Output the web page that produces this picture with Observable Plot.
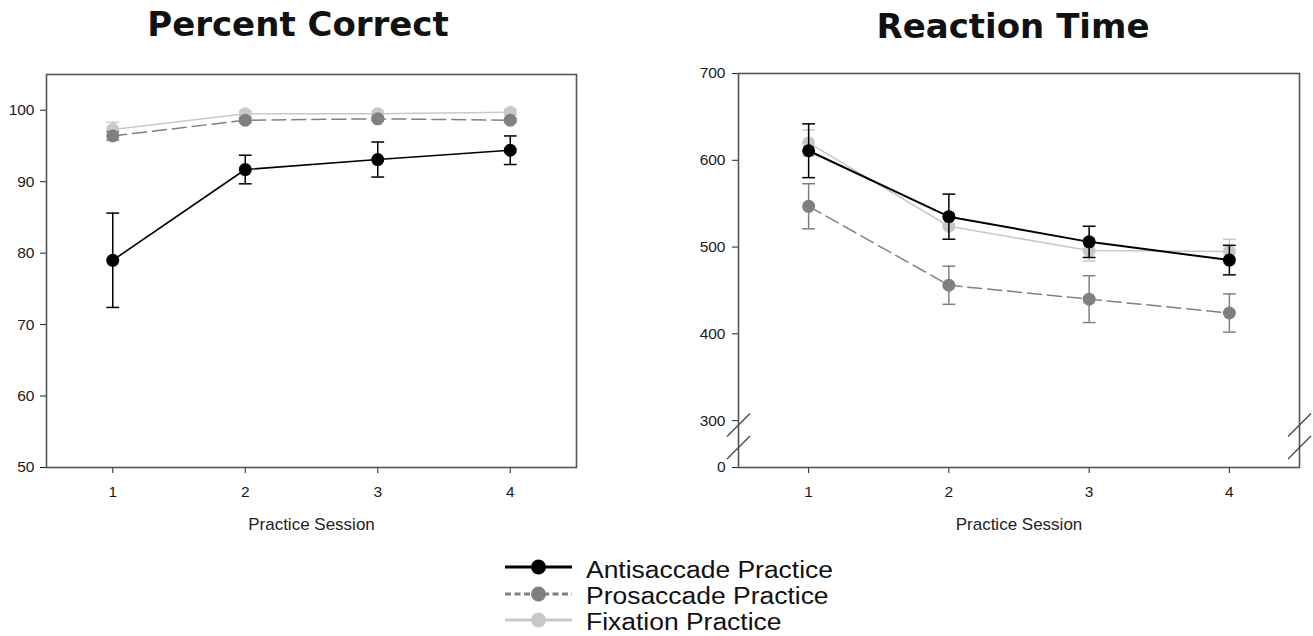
<!DOCTYPE html>
<html>
<head>
<meta charset="utf-8">
<script src="https://cdn.jsdelivr.net/npm/d3@7"></script>
<script src="https://cdn.jsdelivr.net/npm/@observablehq/plot@0.6"></script>
<style>
  html, body { margin: 0; padding: 0; background: #fff; }
  #root { position: relative; width: 1313px; height: 636px; overflow: hidden; font-family: "Liberation Sans", Arial, sans-serif; }
  .title { position: absolute; font-family: "DejaVu Sans", Verdana, sans-serif; font-weight: bold; font-size: 34px; line-height: 34px; color: #111; white-space: nowrap; transform: translateX(-50%); }
  .plotbox { position: absolute; top: 60px; }
  .plotbox svg g[aria-label*="axis"] text { font-size: 15.5px !important; fill: #1a1a1a; }
  .leg-text { position: absolute; left: 586px; font-size: 23px; line-height: 26px; color: #111; white-space: nowrap; transform: scaleX(1.15); transform-origin: 0 50%; }
  .leg-sw { position: absolute; left: 500px; width: 76px; height: 26px; }
</style>
</head>
<body>
<div id="root">
  <div class="title" style="left:298px; top:7px;">Percent Correct</div>
  <div class="title" style="left:1013px; top:9px;">Reaction Time</div>
  <div class="plotbox" id="left" style="left:0px;"></div>
  <div class="plotbox" id="right" style="left:660px;"></div>
  <div id="legend"></div>
</div>
<script>
// ---- data ----
const sessions = [1, 2, 3, 4];
const seriesNames = ["Antisaccade Practice", "Prosaccade Practice", "Fixation Practice"];

// Percent Correct
const pcAnti = [79.0, 91.7, 93.1, 94.4];
const pcAntiErr = [6.6, 2.0, 2.45, 2.0];
const pcPro = [96.4, 98.6, 98.8, 98.6];
const pcProErr = [0.6, 0.3, 0.3, 0.3];
const pcFix = [97.3, 99.5, 99.5, 99.7];
const pcFixErr = [1.0, 0.4, 0.4, 0.4];

// Reaction Time (ms)
const rtAnti = [611, 535, 506, 485];
const rtAntiErr = [31, 26, 18, 17];
const rtPro = [547, 456, 440, 424];
const rtProErr = [26, 22, 27, 22];
const rtFix = [620, 524, 496, 495];
const rtFixErr = [15, 15, 12, 14];

// axis ticks
const pcTicks = [50, 60, 70, 80, 90, 100];
const rtTicks = [300, 400, 500, 600, 700];
const rtBreakBottom = 246;   // position on the broken axis where "0" sits
const rtBreakMarks = [295, 269];

// ---- styles ----
const styles = {
  "Antisaccade Practice": {color: "#000", dash: null, width: 1.6},
  "Prosaccade Practice": {color: "#808080", dash: "14,6", width: 1.5},
  "Fixation Practice": {color: "#c8c8c8", dash: null, width: 1.5}
};

function rows(vals, errs) {
  return sessions.map((s, i) => ({session: s, v: vals[i], e: errs[i]}));
}

const capSymbol = {
  draw(ctx, size) {
    const r = Math.sqrt(size / Math.PI);
    ctx.moveTo(-r, 0); ctx.lineTo(r, 0);
  }
};
const slashSymbol = {
  draw(ctx, size) {
    const r = Math.sqrt(size / Math.PI);
    ctx.moveTo(-r, r); ctx.lineTo(r, -r);
  }
};

function seriesMarks(name, data, lineWidth) {
  const st = styles[name];
  return [
    Plot.ruleX(data, {x: "session", y1: d => d.v - d.e, y2: d => d.v + d.e, stroke: st.color, strokeWidth: 1.5}),
    Plot.dot(data, {x: "session", y: d => d.v + d.e, symbol: capSymbol, r: 6.4, stroke: st.color, strokeWidth: 1.5, fill: "none"}),
    Plot.dot(data, {x: "session", y: d => d.v - d.e, symbol: capSymbol, r: 6.4, stroke: st.color, strokeWidth: 1.5, fill: "none"}),
    Plot.line(data, {x: "session", y: "v", stroke: st.color, strokeWidth: lineWidth || st.width, strokeDasharray: st.dash}),
    Plot.dot(data, {x: "session", y: "v", r: 6.5, fill: st.color, stroke: "none"})
  ];
}

const common = {
  height: 477,
  marginBottom: 70,
  style: {fontFamily: "'Liberation Sans', Arial, sans-serif", fontSize: "15px", color: "#222", background: "transparent", overflow: "visible"}
};

// ---- left: Percent Correct ----
const leftPlot = Plot.plot({
  ...common,
  width: 620,
  marginTop: 14,
  marginLeft: 46,
  marginRight: 44,
  x: {domain: [0.5, 4.5], ticks: sessions, tickFormat: d => String(d), tickSize: 6, tickPadding: 12, label: null},
  y: {domain: [50, 105], ticks: pcTicks, tickSize: 6, tickPadding: 6, label: null},
  marks: [
    ...seriesMarks("Fixation Practice", rows(pcFix, pcFixErr)),
    ...seriesMarks("Prosaccade Practice", rows(pcPro, pcProErr)),
    ...seriesMarks("Antisaccade Practice", rows(pcAnti, pcAntiErr)),
    Plot.frame({stroke: "#555", strokeWidth: 1.6}),
    Plot.text(["Practice Session"], {frameAnchor: "bottom", dy: 62, lineAnchor: "bottom", fontSize: 17, fill: "#222"})
  ]
});
document.getElementById("left").appendChild(leftPlot);

// ---- right: Reaction Time ----
const slashData = [];
for (const xv of [0.5, 4.5]) for (const yv of rtBreakMarks) slashData.push({x: xv, y: yv});

const rightPlot = Plot.plot({
  ...common,
  width: 653,
  marginTop: 13,
  marginLeft: 78,
  marginRight: 14,
  x: {domain: [0.5, 4.5], ticks: sessions, tickFormat: d => String(d), tickSize: 6, tickPadding: 12, label: null},
  y: {domain: [rtBreakBottom, 700], ticks: [rtBreakBottom, ...rtTicks], tickFormat: d => d === rtBreakBottom ? "0" : String(d), tickSize: 6, tickPadding: 7, label: null},
  marks: [
    ...seriesMarks("Fixation Practice", rows(rtFix, rtFixErr)),
    ...seriesMarks("Prosaccade Practice", rows(rtPro, rtProErr)),
    ...seriesMarks("Antisaccade Practice", rows(rtAnti, rtAntiErr), 2),
    Plot.frame({stroke: "#555", strokeWidth: 1.6}),
    Plot.dot(slashData, {x: "x", y: "y", symbol: slashSymbol, r: 11.5, stroke: "#444", strokeWidth: 1.3, fill: "none"}),
    Plot.text(["Practice Session"], {frameAnchor: "bottom", dy: 62, lineAnchor: "bottom", fontSize: 17, fill: "#222"})
  ]
});
document.getElementById("right").appendChild(rightPlot);

// ---- legend ----
const legend = document.getElementById("legend");
const swCenters = [567, 593.5, 620];
const textTops = [557, 583, 609];
seriesNames.forEach((name, i) => {
  const st = styles[name];
  const ns = "http://www.w3.org/2000/svg";
  const svg = document.createElementNS(ns, "svg");
  svg.setAttribute("class", "leg-sw");
  svg.setAttribute("width", 76); svg.setAttribute("height", 26);
  svg.style.top = (swCenters[i] - 13) + "px";
  const ln = document.createElementNS(ns, "line");
  ln.setAttribute("x1", 5); ln.setAttribute("x2", 72); ln.setAttribute("y1", 13); ln.setAttribute("y2", 13);
  ln.setAttribute("stroke", st.color); ln.setAttribute("stroke-width", 3);
  if (st.dash) ln.setAttribute("stroke-dasharray", "6,3.5");
  svg.appendChild(ln);
  const c = document.createElementNS(ns, "circle");
  c.setAttribute("cx", 38.5); c.setAttribute("cy", 13); c.setAttribute("r", 7.5); c.setAttribute("fill", st.color);
  svg.appendChild(c);
  legend.appendChild(svg);
  const t = document.createElement("div");
  t.className = "leg-text";
  t.style.top = textTops[i] + "px";
  t.textContent = name;
  legend.appendChild(t);
});
</script>
</body>
</html>
